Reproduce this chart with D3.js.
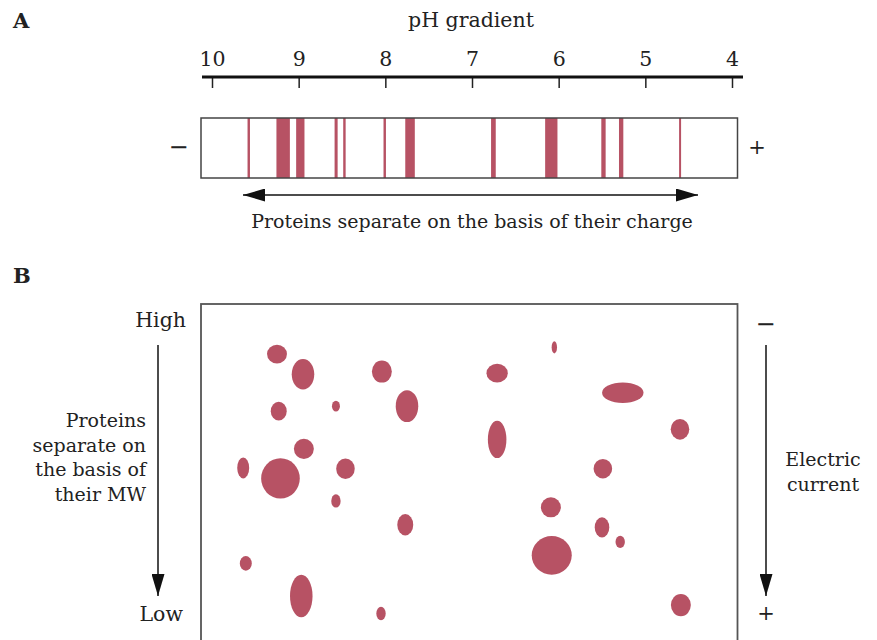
<!DOCTYPE html>
<html><head><meta charset="utf-8">
<script src="https://cdn.jsdelivr.net/npm/d3@7"></script>
<style>
html,body{margin:0;padding:0;background:#fff;}
svg text{font-family:"DejaVu Serif",serif;fill:#222;}
</style></head>
<body>
<svg id="chart" width="877" height="640"></svg>
<script>
// ---- DATA ----
const phTicks = [10, 9, 8, 7, 6, 5, 4];
// isoelectric focusing bands: pH position and band width (pH units)
const bandPH    = [9.576, 9.179, 8.981, 8.568, 8.472, 8.007, 7.715, 6.753, 6.085, 5.483, 5.279, 4.599];
const bandWidth = [0.028, 0.155, 0.096, 0.035, 0.028, 0.028, 0.110, 0.054, 0.142, 0.050, 0.050, 0.023];
// 2-D gel spots: pH, migration distance (0 = top, High MW), spread in pH, spread in migration
const spotPH  = [9.25, 8.95, 8.04, 9.23, 8.57, 7.75, 8.94, 9.64, 9.21, 8.46, 8.57, 7.77, 9.61, 8.97, 8.05,
                 6.71, 6.05, 5.26, 6.71, 4.60, 5.49, 6.09, 5.50, 5.29, 6.08, 4.59];
const spotMig = [14.9, 20.9, 20.1, 31.9, 30.4, 30.4, 43.1, 48.8, 51.9, 49.0, 58.6, 65.7, 77.2, 86.9, 92.1,
                 20.6, 12.9, 26.4, 40.3, 37.3, 49.0, 60.5, 66.5, 70.8, 74.8, 89.6];
const spotW   = [0.115, 0.130, 0.115, 0.092, 0.046, 0.130, 0.115, 0.069, 0.223, 0.107, 0.054, 0.092, 0.069, 0.130, 0.054,
                 0.123, 0.031, 0.239, 0.107, 0.107, 0.107, 0.115, 0.084, 0.054, 0.231, 0.115];
const spotH   = [2.8, 4.55, 3.3, 2.8, 1.6, 4.75, 3.0, 3.1, 6.0, 3.05, 2.0, 3.2, 2.2, 6.35, 2.0,
                 2.8, 1.8, 3.07, 5.57, 3.07, 2.9, 3.0, 3.0, 1.8, 5.75, 3.3];
const leftLabelLines = ["Proteins", "separate on", "the basis of", "their MW"];
const rightLabelLines = ["Electric", "current"];

const bands = bandPH.map((p, i) => ({ph: p, w: bandWidth[i]}));
const spots = spotPH.map((p, i) => ({ph: p, m: spotMig[i], w: spotW[i], h: spotH[i]}));

// ---- DRAW ----
const COLOR = "#b75264";
const FS = 19;
const svg = d3.select("#chart");
const x = d3.scaleLinear().domain([10, 4]).range([212, 732]);
const y = d3.scaleLinear().domain([0, 100]).range([304, 640]);

// arrow markers
const defs = svg.append("defs");
function marker(id, orient) {
  defs.append("marker").attr("id", id).attr("viewBox", "0 0 22 13")
    .attr("refX", 22).attr("refY", 6.5).attr("markerWidth", 22).attr("markerHeight", 13)
    .attr("markerUnits", "userSpaceOnUse").attr("orient", orient)
    .append("path").attr("d", "M0,0 L22,6.5 L0,13 Z").attr("fill", "#111");
}
marker("arr", "auto");
marker("arrStart", "auto-start-reverse");

// Panel labels
svg.append("text").attr("x", 13).attr("y", 27.5).attr("font-weight", "bold").attr("font-size", 21).text("A");
svg.append("text").attr("x", 13).attr("y", 282.5).attr("font-weight", "bold").attr("font-size", 21).text("B");

// ---- Panel A ----
svg.append("text").attr("x", 471).attr("y", 27).attr("text-anchor", "middle").attr("font-size", 20.5).text("pH gradient");

const axisY = 77;
const ax = svg.append("g").attr("transform", `translate(0,${axisY})`)
  .call(d3.axisTop(x).tickValues(phTicks).tickSizeInner(-11).tickSizeOuter(0).tickPadding(11).tickFormat(d3.format("d")));
ax.select(".domain").remove();
ax.selectAll(".tick line").attr("stroke", "#222").attr("stroke-width", 1.5);
ax.selectAll(".tick text").attr("font-family", "DejaVu Serif, serif").attr("font-size", 20.5).attr("fill", "#222");
svg.append("line").attr("x1", x(10) - 10).attr("x2", x(4) + 11).attr("y1", axisY).attr("y2", axisY)
  .attr("stroke", "#111").attr("stroke-width", 3);

const stripTop = 118, stripBot = 178;
const stripL = x(10) - 11, stripR = x(4) + 5.5;
svg.append("g").selectAll("rect").data(bands).join("rect")
  .attr("x", d => x(d.ph + d.w / 2)).attr("width", d => x(d.ph - d.w / 2) - x(d.ph + d.w / 2))
  .attr("y", stripTop).attr("height", stripBot - stripTop).attr("fill", COLOR);
svg.append("rect").attr("x", stripL).attr("y", stripTop).attr("width", stripR - stripL).attr("height", stripBot - stripTop)
  .attr("fill", "none").attr("stroke", "#444").attr("stroke-width", 1.5);

svg.append("text").attr("x", 178.5).attr("y", 155).attr("text-anchor", "middle").attr("font-size", 24).attr("font-weight", 300).text("\u2212");
svg.append("text").attr("x", 757).attr("y", 154).attr("text-anchor", "middle").attr("font-size", 21).text("+");

svg.append("line").attr("x1", 243).attr("x2", 698).attr("y1", 195).attr("y2", 195)
  .attr("stroke", "#111").attr("stroke-width", 1.5)
  .attr("marker-end", "url(#arr)").attr("marker-start", "url(#arrStart)");
svg.append("text").attr("x", 472).attr("y", 228).attr("text-anchor", "middle").attr("font-size", FS)
  .text("Proteins separate on the basis of their charge");

// ---- Panel B ----
svg.append("g").selectAll("ellipse").data(spots).join("ellipse")
  .attr("cx", d => x(d.ph)).attr("cy", d => y(d.m))
  .attr("rx", d => x(d.ph - d.w) - x(d.ph)).attr("ry", d => y(d.h) - y(0))
  .attr("fill", COLOR);
svg.append("rect").attr("x", stripL).attr("y", y(0)).attr("width", stripR - stripL).attr("height", 400)
  .attr("fill", "none").attr("stroke", "#555").attr("stroke-width", 1.8);

svg.append("text").attr("x", 186).attr("y", 327).attr("text-anchor", "end").attr("font-size", 20.5).text("High");
svg.append("text").attr("x", 183).attr("y", 621).attr("text-anchor", "end").attr("font-size", 20.5).text("Low");
svg.append("line").attr("x1", 158).attr("x2", 158).attr("y1", 345).attr("y2", 596)
  .attr("stroke", "#111").attr("stroke-width", 1.5).attr("marker-end", "url(#arr)");
svg.append("g").selectAll("text").data(leftLabelLines).join("text")
  .attr("x", 146).attr("y", (d, i) => 427 + i * 24.7).attr("text-anchor", "end").attr("font-size", FS).text(d => d);

svg.append("text").attr("x", 765.5).attr("y", 332).attr("text-anchor", "middle").attr("font-size", 24).text("\u2212");
svg.append("text").attr("x", 766).attr("y", 620).attr("text-anchor", "middle").attr("font-size", 21).text("+");
svg.append("line").attr("x1", 766).attr("x2", 766).attr("y1", 345).attr("y2", 596)
  .attr("stroke", "#111").attr("stroke-width", 1.5).attr("marker-end", "url(#arr)");
svg.append("g").selectAll("text").data(rightLabelLines).join("text")
  .attr("x", 823).attr("y", (d, i) => 466 + i * 24.5).attr("text-anchor", "middle").attr("font-size", FS).text(d => d);
</script>
</body></html>
